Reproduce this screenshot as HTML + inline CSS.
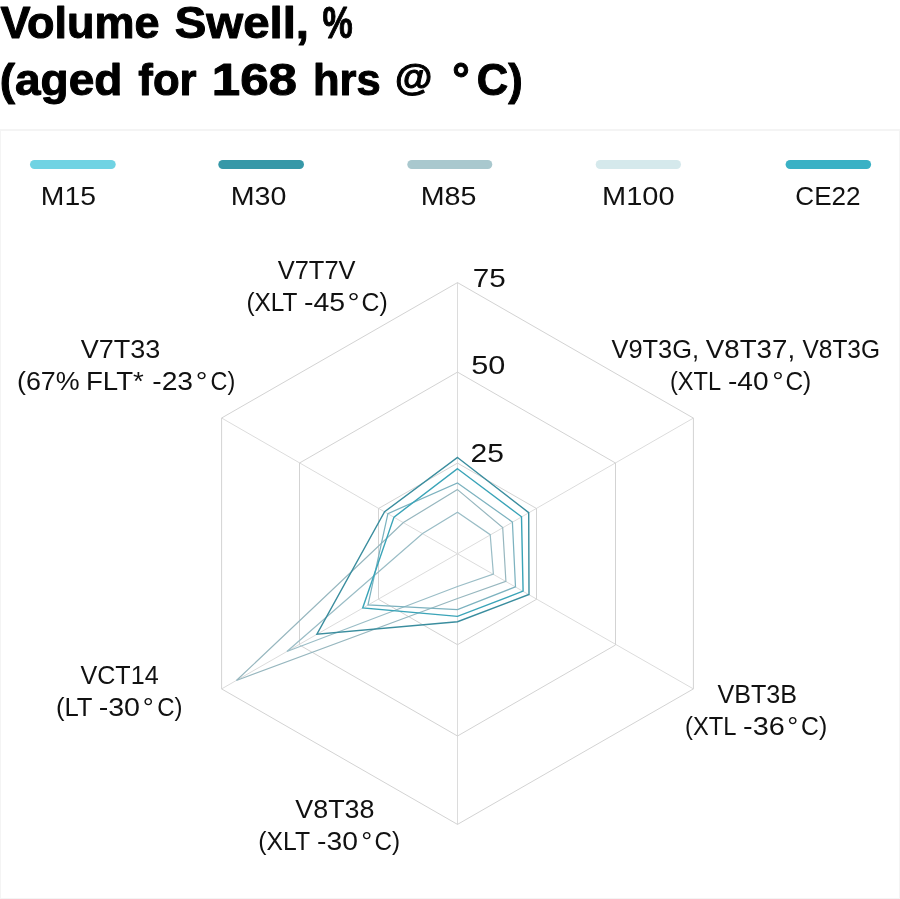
<!DOCTYPE html>
<html lang="en"><head><meta charset="utf-8"><title>Volume Swell</title>
<style>
html,body{margin:0;padding:0;background:#fff;}
body{width:900px;height:899px;overflow:hidden;position:relative;}
svg{position:absolute;left:0;top:0;display:block;}
text{font-family:"Liberation Sans",sans-serif;fill:#111;}
text.b{font-weight:bold;fill:#000;stroke:#000;stroke-width:1.0px;stroke-linejoin:round;}
text.r{stroke:#111;stroke-width:0px;}
.frame{fill:none;stroke:#f4f4f4;stroke-width:2;}
</style></head><body>
<svg width="900" height="899" viewBox="0 0 900 899">
<rect class="frame" x="0" y="130" width="900" height="769"/>
<line x1="457.5" y1="553.8" x2="457.5" y2="282.6" stroke="#dcdcdc" stroke-width="1"/>
<line x1="457.5" y1="553.8" x2="693.4" y2="418.1" stroke="#dcdcdc" stroke-width="1"/>
<line x1="457.5" y1="553.8" x2="693.4" y2="688.9" stroke="#dcdcdc" stroke-width="1"/>
<line x1="457.5" y1="553.8" x2="457.5" y2="824.4" stroke="#dcdcdc" stroke-width="1"/>
<line x1="457.5" y1="553.8" x2="221.6" y2="688.9" stroke="#dcdcdc" stroke-width="1"/>
<line x1="457.5" y1="553.8" x2="221.6" y2="418.0" stroke="#dcdcdc" stroke-width="1"/>
<polygon points="457.5,463.1 536.5,508.5 536.5,599.3 457.5,644.7 378.5,599.3 378.5,508.5" fill="none" stroke="#d3d3d3" stroke-width="1"/>
<polygon points="457.5,372.1 615.5,463.0 615.5,645.0 457.5,736.0 299.5,645.0 299.5,463.0" fill="none" stroke="#d3d3d3" stroke-width="1"/>
<polygon points="457.5,282.6 693.4,418.1 693.4,688.9 457.5,824.4 221.6,688.9 221.6,418.0" fill="none" stroke="#d3d3d3" stroke-width="1"/>
<polygon points="457.5,512.3 490.2,534.7 493.4,574.1 457.5,586.5 286.9,651.5 422.6,533.5" fill="none" stroke="#9abdc6" stroke-width="1.2"/>
<polygon points="457.5,489.6 502.7,527.6 505.9,581.3 457.5,598.5 236.4,680.5 403.4,522.5" fill="none" stroke="#97b7bf" stroke-width="1.2"/>
<polygon points="457.5,483.0 512.4,522.0 515.5,586.8 457.5,609.6 368.0,604.9 387.9,513.6" fill="none" stroke="#7cb2bf" stroke-width="1.25"/>
<polygon points="457.5,468.7 521.5,516.8 523.1,591.1 457.5,616.4 362.7,607.9 394.0,517.1" fill="none" stroke="#3aa4b8" stroke-width="1.4"/>
<polygon points="457.5,457.5 528.7,512.6 529.0,594.5 457.5,621.7 316.9,634.2 384.6,511.7" fill="none" stroke="#3a8d9e" stroke-width="1.4"/>
<line x1="34.5" y1="164.5" x2="111.2" y2="164.5" stroke="#70d3e3" stroke-width="9" stroke-linecap="round"/>
<line x1="222.8" y1="164.5" x2="299.5" y2="164.5" stroke="#3698a8" stroke-width="9" stroke-linecap="round"/>
<line x1="411.8" y1="164.5" x2="487.8" y2="164.5" stroke="#a9c8ce" stroke-width="9" stroke-linecap="round"/>
<line x1="600.2" y1="164.5" x2="676.5" y2="164.5" stroke="#d5e9ec" stroke-width="9" stroke-linecap="round"/>
<line x1="790.1" y1="164.5" x2="866.6" y2="164.5" stroke="#3ab1c5" stroke-width="9" stroke-linecap="round"/>
<text class="b" y="38.20" font-size="43.50"><tspan id="t1_0" x="0.46" textLength="159.17" lengthAdjust="spacingAndGlyphs">Volume</tspan> <tspan id="t1_1" x="174.68" textLength="134.36" lengthAdjust="spacingAndGlyphs">Swell,</tspan> <tspan id="t1_2" x="322.61" textLength="30.18" lengthAdjust="spacingAndGlyphs">%</tspan></text>
<text class="b" y="95.40" font-size="43.50"><tspan id="t2_0" x="-0.35" textLength="122.75" lengthAdjust="spacingAndGlyphs">(aged</tspan> <tspan id="t2_1" x="138.35" textLength="58.25" lengthAdjust="spacingAndGlyphs">for</tspan> <tspan id="t2_2" x="211.86" textLength="85.11" lengthAdjust="spacingAndGlyphs">168</tspan> <tspan id="t2_3" x="313.00" textLength="67.70" lengthAdjust="spacingAndGlyphs">hrs</tspan> <tspan id="t2_4" x="395.11" textLength="37.33" lengthAdjust="spacingAndGlyphs" font-size="36.30" y="89.80">@</tspan> <tspan id="t2_5" x="452.19" textLength="17.42" lengthAdjust="spacingAndGlyphs" y="93.60">°</tspan><tspan id="t2_6" x="476.75" textLength="45.91" lengthAdjust="spacingAndGlyphs" y="95.40">C)</tspan></text>
<text class="r" y="205.20" font-size="26.60"><tspan id="l1_0" x="40.80" textLength="55.12" lengthAdjust="spacingAndGlyphs">M15</tspan></text>
<text class="r" y="205.20" font-size="26.60"><tspan id="l2_0" x="230.68" textLength="55.68" lengthAdjust="spacingAndGlyphs">M30</tspan></text>
<text class="r" y="205.20" font-size="26.60"><tspan id="l3_0" x="420.68" textLength="55.68" lengthAdjust="spacingAndGlyphs">M85</tspan></text>
<text class="r" y="205.20" font-size="26.60"><tspan id="l4_0" x="602.10" textLength="72.48" lengthAdjust="spacingAndGlyphs">M100</tspan></text>
<text class="r" y="205.20" font-size="26.60"><tspan id="l5_0" x="795.32" textLength="65.24" lengthAdjust="spacingAndGlyphs">CE22</tspan></text>
<text class="r" y="279.20" font-size="26.60"><tspan id="a0a_0" x="277.76" textLength="77.79" lengthAdjust="spacingAndGlyphs">V7T7V</tspan></text>
<text class="r" y="311.20" font-size="26.60"><tspan id="a0b_0" x="246.40" textLength="50.53" lengthAdjust="spacingAndGlyphs">(XLT</tspan> <tspan id="a0b_1" x="304.07" textLength="41.09" lengthAdjust="spacingAndGlyphs">-45</tspan><tspan id="a0b_2" x="347.55" textLength="12.14" lengthAdjust="spacingAndGlyphs">°</tspan><tspan id="a0b_3" x="361.54" textLength="26.11" lengthAdjust="spacingAndGlyphs">C)</tspan></text>
<text class="r" y="287.10" font-size="26.60"><tspan id="k75_0" x="472.84" textLength="33.00" lengthAdjust="spacingAndGlyphs">75</tspan></text>
<text class="r" y="374.00" font-size="26.60"><tspan id="k50_0" x="471.23" textLength="34.17" lengthAdjust="spacingAndGlyphs">50</tspan></text>
<text class="r" y="462.00" font-size="26.60"><tspan id="k25_0" x="470.47" textLength="33.43" lengthAdjust="spacingAndGlyphs">25</tspan></text>
<text class="r" y="358.10" font-size="26.60"><tspan id="a5a_0" x="80.65" textLength="79.63" lengthAdjust="spacingAndGlyphs">V7T33</tspan></text>
<text class="r" y="390.00" font-size="26.60"><tspan id="a5b_0" x="16.98" textLength="62.63" lengthAdjust="spacingAndGlyphs">(67%</tspan> <tspan id="a5b_1" x="86.02" textLength="57.76" lengthAdjust="spacingAndGlyphs">FLT*</tspan> <tspan id="a5b_2" x="152.22" textLength="40.84" lengthAdjust="spacingAndGlyphs">-23</tspan><tspan id="a5b_3" x="195.72" textLength="11.74" lengthAdjust="spacingAndGlyphs">°</tspan><tspan id="a5b_4" x="210.60" textLength="24.70" lengthAdjust="spacingAndGlyphs">C)</tspan></text>
<text class="r" y="358.40" font-size="26.60"><tspan id="a1a_0" x="611.46" textLength="87.52" lengthAdjust="spacingAndGlyphs">V9T3G,</tspan> <tspan id="a1a_1" x="705.74" textLength="89.37" lengthAdjust="spacingAndGlyphs">V8T37,</tspan> <tspan id="a1a_2" x="802.47" textLength="77.57" lengthAdjust="spacingAndGlyphs">V8T3G</tspan></text>
<text class="r" y="390.40" font-size="26.60"><tspan id="a1b_0" x="669.95" textLength="50.22" lengthAdjust="spacingAndGlyphs">(XTL</tspan> <tspan id="a1b_1" x="727.98" textLength="40.56" lengthAdjust="spacingAndGlyphs">-40</tspan><tspan id="a1b_2" x="772.17" textLength="11.41" lengthAdjust="spacingAndGlyphs">°</tspan><tspan id="a1b_3" x="785.41" textLength="25.82" lengthAdjust="spacingAndGlyphs">C)</tspan></text>
<text class="r" y="702.90" font-size="26.60"><tspan id="a2a_0" x="717.47" textLength="79.61" lengthAdjust="spacingAndGlyphs">VBT3B</tspan></text>
<text class="r" y="735.00" font-size="26.60"><tspan id="a2b_0" x="685.12" textLength="50.51" lengthAdjust="spacingAndGlyphs">(XTL</tspan> <tspan id="a2b_1" x="743.06" textLength="41.62" lengthAdjust="spacingAndGlyphs">-36</tspan><tspan id="a2b_2" x="787.34" textLength="11.01" lengthAdjust="spacingAndGlyphs">°</tspan><tspan id="a2b_3" x="801.03" textLength="26.11" lengthAdjust="spacingAndGlyphs">C)</tspan></text>
<text class="r" y="818.00" font-size="26.60"><tspan id="a3a_0" x="295.35" textLength="79.13" lengthAdjust="spacingAndGlyphs">V8T38</tspan></text>
<text class="r" y="849.80" font-size="26.60"><tspan id="a3b_0" x="258.37" textLength="51.30" lengthAdjust="spacingAndGlyphs">(XLT</tspan> <tspan id="a3b_1" x="317.08" textLength="40.83" lengthAdjust="spacingAndGlyphs">-30</tspan><tspan id="a3b_2" x="361.34" textLength="11.01" lengthAdjust="spacingAndGlyphs">°</tspan><tspan id="a3b_3" x="374.48" textLength="25.54" lengthAdjust="spacingAndGlyphs">C)</tspan></text>
<text class="r" y="683.50" font-size="26.60"><tspan id="a4a_0" x="80.51" textLength="78.12" lengthAdjust="spacingAndGlyphs">VCT14</tspan></text>
<text class="r" y="715.70" font-size="26.60"><tspan id="a4b_0" x="55.96" textLength="36.08" lengthAdjust="spacingAndGlyphs">(LT</tspan> <tspan id="a4b_1" x="98.65" textLength="41.38" lengthAdjust="spacingAndGlyphs">-30</tspan><tspan id="a4b_2" x="142.84" textLength="11.01" lengthAdjust="spacingAndGlyphs">°</tspan><tspan id="a4b_3" x="157.28" textLength="25.27" lengthAdjust="spacingAndGlyphs">C)</tspan></text>
</svg>
</body></html>
